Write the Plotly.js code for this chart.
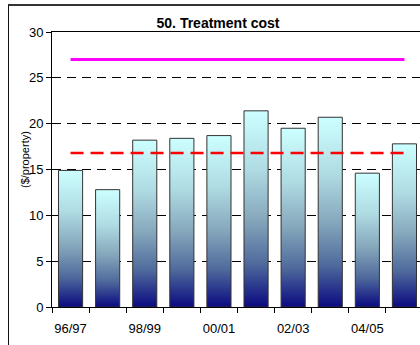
<!DOCTYPE html>
<html>
<head>
<meta charset="utf-8">
<script src="https://cdn.plot.ly/plotly-3.0.1.min.js"></script>
<style>
  html, body { margin: 0; padding: 0; width: 420px; height: 345px; overflow: hidden; background: #fff; }
  #frame { position: absolute; left: 8px; top: 4px; width: 1000px; height: 1000px;
           border-top: 2px solid #333; border-left: 1px solid #111; pointer-events: none; z-index: 5; }
  #chart { position: absolute; left: 0; top: 0; }
</style>
</head>
<body>
<div id="frame"></div>
<div id="chart"></div>
<script>
// Financial years and treatment cost per property ($)
const categories = ['96/97', '97/98', '98/99', '99/00', '00/01', '01/02', '02/03', '03/04', '04/05', '05/06'];
const costs = [14.9, 12.8, 18.2, 18.4, 18.7, 21.4, 19.5, 20.7, 14.6, 17.8];

// Reference levels
const targetLevel = 27;
const benchmarkLevel = 16.8;

// Label only every second year on the axis
const tickText = categories.map((c, i) => (i % 2 === 0 ? c : ''));

const first = categories[0];
const last = categories[categories.length - 1];

const data = [
  {
    type: 'bar',
    x: categories,
    y: costs,
    marker: { color: '#8fb0c0', line: { color: '#333', width: 1 } },
    hoverinfo: 'x+y'
  },
  {
    type: 'scatter',
    mode: 'lines',
    x: [first, last],
    y: [benchmarkLevel, benchmarkLevel],
    line: { color: '#ff0000', width: 2.5, dash: '13px,7px' }
  },
  {
    type: 'scatter',
    mode: 'lines',
    x: [first, last],
    y: [targetLevel, targetLevel],
    line: { color: '#ff00ff', width: 3 }
  }
];

const W = 440, H = 345;
const layout = {
  width: W,
  height: H,
  margin: { l: 52, r: 17, t: 32, b: 38 },
  paper_bgcolor: 'rgba(0,0,0,0)',
  plot_bgcolor: '#ffffff',
  showlegend: false,
  bargap: 0.35,
  font: { family: 'Liberation Sans, Arial, sans-serif', color: '#000' },
  title: {
    text: '<b>50. Treatment cost</b>',
    font: { size: 14, color: '#000' },
    xref: 'container', yref: 'container',
    x: 218 / W, xanchor: 'center',
    y: 1 - 23 / H, yanchor: 'middle'
  },
  xaxis: {
    type: 'category',
    tickmode: 'array',
    tickvals: categories,
    ticktext: tickText,
    tickangle: 0,
    tickson: 'boundaries',
    ticks: 'outside',
    ticklen: 5,
    tickcolor: '#000',
    ticklabelstandoff: 9,
    tickfont: { size: 13, color: '#000' },
    showline: true,
    linecolor: '#000',
    linewidth: 1,
    mirror: true,
    showgrid: false,
    zeroline: false,
    automargin: false
  },
  yaxis: {
    range: [0, 30],
    dtick: 5,
    ticks: 'outside',
    ticklen: 5,
    tickcolor: '#000',
    tickfont: { size: 13, color: '#000' },
    showline: true,
    linecolor: '#000',
    linewidth: 1,
    mirror: true,
    showgrid: true,
    gridcolor: '#000',
    gridwidth: 1,
    griddash: '9px,6px',
    zeroline: false,
    automargin: false
  },
  annotations: [
    {
      text: '($/property)',
      textangle: -90,
      xref: 'paper', yref: 'paper',
      x: (25 - 52) / 371, xanchor: 'center',
      y: (307 - 159) / 275, yanchor: 'middle',
      showarrow: false,
      font: { size: 11, color: '#000' }
    }
  ]
};

Plotly.newPlot('chart', data, layout, { displayModeBar: false, staticPlot: true }).then(gd => {
  // Vertical light-cyan to navy fade applied to each bar's own box
  const svg = gd.querySelector('.main-svg');
  const NS = 'http://www.w3.org/2000/svg';
  let defs = svg.querySelector('defs');
  if (!defs) { defs = document.createElementNS(NS, 'defs'); svg.insertBefore(defs, svg.firstChild); }
  const grad = document.createElementNS(NS, 'linearGradient');
  grad.setAttribute('id', 'barFade');
  grad.setAttribute('x1', '0'); grad.setAttribute('y1', '0');
  grad.setAttribute('x2', '0'); grad.setAttribute('y2', '1');
  const stops = [
    [0, '#ccffff'], [0.3, '#afdbe3'], [0.55, '#86a8bc'],
    [0.78, '#4f6a9c'], [1, '#0a0a80']
  ];
  stops.forEach(([o, c]) => {
    const s = document.createElementNS(NS, 'stop');
    s.setAttribute('offset', o);
    s.setAttribute('stop-color', c);
    grad.appendChild(s);
  });
  defs.appendChild(grad);
  gd.querySelectorAll('.bars .point path').forEach(p => {
    p.style.fill = 'url(#barFade)';
  });
});
</script>
</body>
</html>
